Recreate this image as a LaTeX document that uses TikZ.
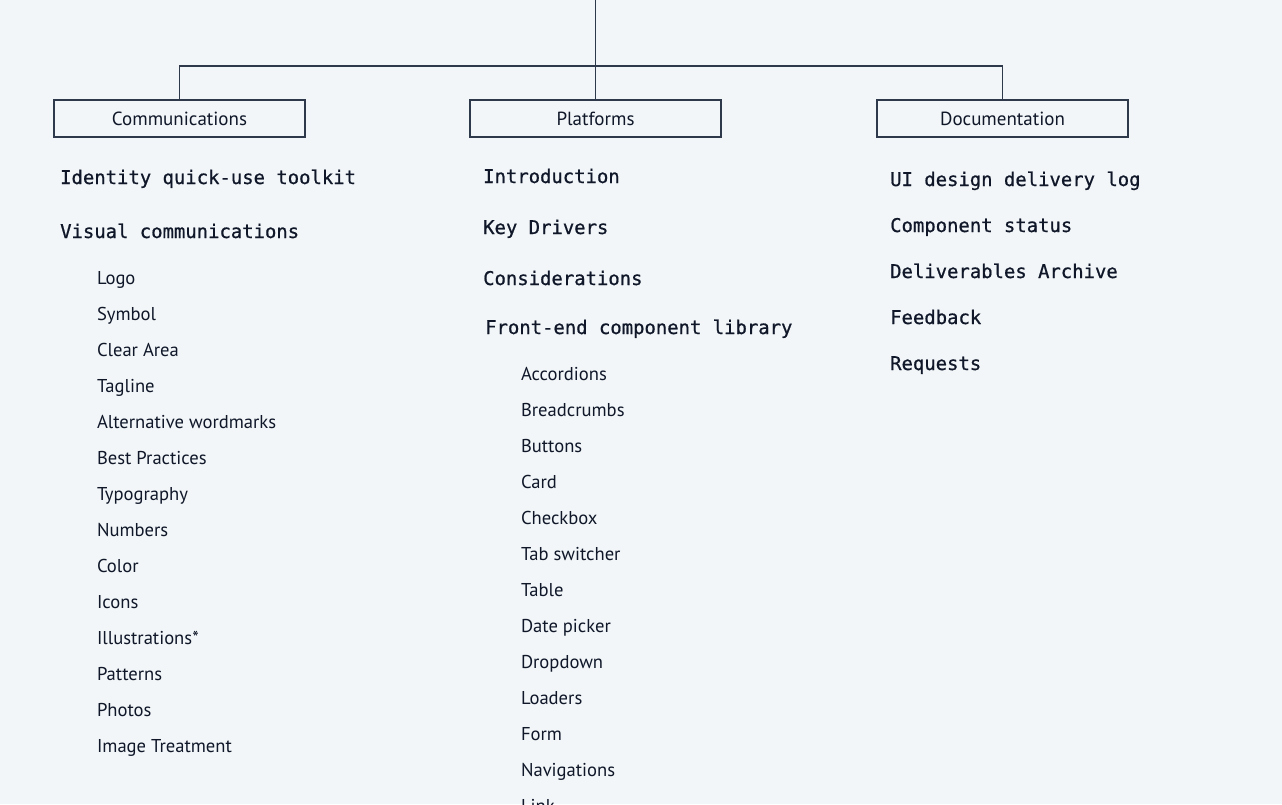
\documentclass[tikz,border=0pt]{standalone}
\usepackage{fontspec}
\setmainfont{PT Sans}
\setmonofont{DejaVu Sans Mono}[FakeBold=0.7]
\usepackage{xcolor}
\usetikzlibrary{positioning}
\definecolor{pagebg}{HTML}{F2F6F8}
\definecolor{inkdark}{HTML}{0F1729}
\definecolor{linegray}{HTML}{2E3A4B}
\tikzset{
    section/.style={
        rectangle,
        draw=linegray,
        line width=1.3pt,
        minimum width=251pt,
        minimum height=37pt,
        inner sep=0pt,
        text=inkdark,
        font=\fontsize{19}{20}\selectfont
    },
    topic/.style={
        anchor=base west,
        inner sep=0pt,
        text=inkdark,
        font=\fontsize{18.9}{20}\selectfont\ttfamily
    },
    item/.style={
        anchor=north west,
        inner sep=0pt,
        outer sep=0pt,
        text height=14pt,
        text depth=4pt,
        text=inkdark,
        font=\fontsize{18.6}{20}\selectfont
    },
    link/.style={
        draw=linegray,
        line width=1.3pt
    }
}

\begin{document}
\begin{tikzpicture}[x=1pt, y=-1pt]

% page
\fill[pagebg] (0,0) rectangle (1282,804);
\useasboundingbox (0,0) rectangle (1282,804);
\clip (0,0) rectangle (1282,804);

% Section boxes
\node[section] (comm) at (179.5,118.5) {Communications};
\node[section] (plat) at (595.5,118.5) {Platforms};
\node[section] (docu) at (1002.5,118.5) {Documentation};

% Tree lines
\coordinate (top) at (595.5,-2);
\coordinate (bar) at (595.5,66);
\draw[link] (plat.north) -- (top);
\draw[link] (comm.north) |- (bar) -| (docu.north);

% Communications column
\node[topic] (toolkit) at (60,184) {Identity quick-use toolkit};
\node[topic] (visual) at (60,238) {Visual communications};
\node[item, anchor=base west] (logo) at (97,284) {Logo};
\node[below=18pt of logo.south west, item] (symbol) {Symbol};
\node[below=18pt of symbol.south west, item] (cleararea) {Clear Area};
\node[below=18pt of cleararea.south west, item] (tagline) {Tagline};
\node[below=18pt of tagline.south west, item] (altwords) {Alternative wordmarks};
\node[below=18pt of altwords.south west, item] (bestpract) {Best Practices};
\node[below=18pt of bestpract.south west, item] (typo) {Typography};
\node[below=18pt of typo.south west, item] (numbers) {Numbers};
\node[below=18pt of numbers.south west, item] (color) {Color};
\node[below=18pt of color.south west, item] (icons) {Icons};
\node[below=18pt of icons.south west, item] (illus) {Illustrations*};
\node[below=18pt of illus.south west, item] (patterns) {Patterns};
\node[below=18pt of patterns.south west, item] (photos) {Photos};
\node[below=18pt of photos.south west, item] (imgtreat) {Image Treatment};

% Platforms column
\node[topic] (intro) at (483,183) {Introduction};
\node[topic] (drivers) at (483,234) {Key Drivers};
\node[topic] (consider) at (483,285) {Considerations};
\node[topic] (frontend) at (485,334) {Front-end component library};
\node[item, anchor=base west] (accord) at (521,380) {Accordions};
\node[below=18pt of accord.south west, item] (crumbs) {Breadcrumbs};
\node[below=18pt of crumbs.south west, item] (buttons) {Buttons};
\node[below=18pt of buttons.south west, item] (card) {Card};
\node[below=18pt of card.south west, item] (checkbox) {Checkbox};
\node[below=18pt of checkbox.south west, item] (tabswitch) {Tab switcher};
\node[below=18pt of tabswitch.south west, item] (table) {Table};
\node[below=18pt of table.south west, item] (datepick) {Date picker};
\node[below=18pt of datepick.south west, item] (dropdown) {Dropdown};
\node[below=18pt of dropdown.south west, item] (loaders) {Loaders};
\node[below=18pt of loaders.south west, item] (form) {Form};
\node[below=18pt of form.south west, item] (navs) {Navigations};
\node[below=18pt of navs.south west, item] (linkitem) {Link};

% Documentation column
\node[topic] (uilog) at (890,186) {UI design delivery log};
\node[topic] (compstat) at (890,232) {Component status};
\node[topic] (archive) at (890,278) {Deliverables Archive};
\node[topic] (feedback) at (890,324) {Feedback};
\node[topic] (requests) at (890,370) {Requests};

\end{tikzpicture}
\end{document}
